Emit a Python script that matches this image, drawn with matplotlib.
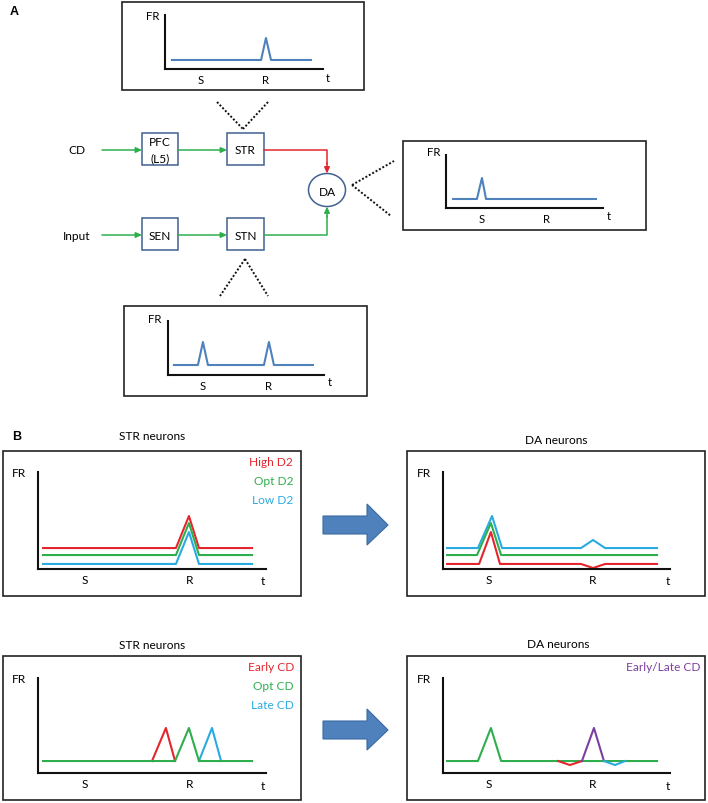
import matplotlib
matplotlib.use("Agg")
import matplotlib.pyplot as plt
from matplotlib.patches import Rectangle, Ellipse, Polygon

plt.rcParams['font.family'] = ['Lato', 'DejaVu Sans']

W, H = 708, 804

# ---------------- data (schematic firing-rate traces, % of mini-axis) ----------------
# Panel A
A_top_t = [4.4, 60.8, 63.9, 67.1, 92.4]
A_top_fr = [16.7, 16.7, 57.4, 16.7, 16.7]
A_top_ticks = [22.8, 63.9]

A_right_t = [4.5, 19.7, 22.9, 25.5, 95.5]
A_right_fr = [17.0, 17.0, 56.6, 17.0, 17.0]
A_right_ticks = [22.9, 64.3]

A_bot_t = [3.8, 19.2, 22.4, 25.6, 61.5, 64.7, 67.9, 92.9]
A_bot_fr = [18.5, 18.5, 61.1, 18.5, 18.5, 61.1, 18.5, 18.5]
A_bot_ticks = [22.4, 64.7]

tick_labels = ['S', 'R']

# Panel B, row 1: STR neurons (D2 levels)
B1_t = [2.2, 60.5, 66.2, 70.6, 93.9]
B1_high = [21.6, 21.6, 54.6, 21.6, 21.6]
B1_opt = [14.4, 14.4, 47.4, 14.4, 14.4]
B1_low = [5.2, 5.2, 38.1, 5.2, 5.2]
B1_ticks = [20.6, 66.7]
B1_labels = ['High D2', 'Opt D2', 'Low D2']

# Panel B, row 1: DA neurons
B2_low_t = [1.8, 15.4, 21.6, 26.0, 60.8, 66.1, 71.4, 94.3]
B2_low = [21.6, 21.6, 54.6, 21.6, 21.6, 29.9, 21.6, 21.6]
B2_opt_t = [1.8, 15.0, 21.1, 25.6, 94.3]
B2_opt = [14.4, 14.4, 47.4, 14.4, 14.4]
B2_high_t = [1.8, 15.9, 21.1, 25.1, 60.8, 66.1, 71.4, 94.3]
B2_high = [5.2, 5.2, 38.1, 5.2, 5.2, 1.0, 5.2, 5.2]
B2_ticks = [20.3, 66.1]

# Panel B, row 2: STR neurons (CD timing)
B3_early_t = [50.0, 56.1, 60.1]
B3_early = [12.6, 47.4, 12.6]
B3_opt_t = [2.2, 60.1, 66.2, 70.6, 93.9]
B3_opt = [12.6, 12.6, 47.4, 12.6, 12.6]
B3_late_t = [70.6, 76.3, 80.3]
B3_late = [12.6, 47.4, 12.6]
B3_ticks = [20.6, 66.7]
B3_labels = ['Early CD', 'Opt CD', 'Late CD']

# Panel B, row 2: DA neurons
B4_opt_t = [1.8, 15.4, 21.1, 25.6, 94.3]
B4_opt = [12.6, 12.6, 47.4, 12.6, 12.6]
B4_early_t = [50.7, 55.9, 61.2]
B4_early = [12.6, 8.4, 12.6]
B4_el_t = [61.2, 66.5, 70.9]
B4_el = [12.6, 47.4, 12.6]
B4_late_t = [70.9, 75.8, 80.2]
B4_late = [12.6, 8.4, 12.6]
B4_ticks = [20.3, 66.1]

# ---------------- styles ----------------
BLUE = '#4f81bd'
BOXBLUE = '#41618f'
RED = '#e3262d'
GREEN = '#2fae4e'
CYAN = '#29abe2'
PURPLE = '#7b3fa0'
FS = 8.6

fig = plt.figure(figsize=(W / 100, H / 100), dpi=100)
base = fig.add_axes([0, 0, 1, 1])
base.set_xlim(0, W)
base.set_ylim(H, 0)
base.axis('off')


def rect(x0, y0, x1, y1, ec='#222222', lw=1.2):
    base.add_patch(Rectangle((x0, y0), x1 - x0, y1 - y0, fill=False, ec=ec, lw=lw))


def mini(x0, x1, ytop, ybot, ticks, fr_xy, t_xy, fs=FS):
    ax = fig.add_axes([x0 / W, 1 - ybot / H, (x1 - x0) / W, (ybot - ytop) / H])
    ax.set_xlim(0, 100)
    ax.set_ylim(0, 100)
    ax.patch.set_alpha(0)
    for s in ['top', 'right']:
        ax.spines[s].set_visible(False)
    for s in ['left', 'bottom']:
        ax.spines[s].set_linewidth(1.5)
        ax.spines[s].set_color('#111111')
    ax.set_yticks([])
    ax.set_xticks(ticks)
    ax.set_xticklabels(tick_labels, fontsize=fs)
    ax.tick_params(axis='x', length=0, pad=3.5)
    base.text(*fr_xy, 'FR', fontsize=fs, ha='center', va='center')
    base.text(*t_xy, 't', fontsize=fs, ha='center', va='center')
    return ax


def dotted(p0, p1):
    base.plot([p0[0], p1[0]], [p0[1], p1[1]], color='#111111', lw=1.4,
              linestyle=(0, (1, 1)))


# ---------------- Panel A ----------------
base.text(10, 12, 'A', fontsize=9, fontweight='bold', family='Liberation Sans',
          ha='left', va='center')

rect(122, 3, 364, 91)
ax = mini(165, 323, 16, 70, A_top_ticks, (153, 16), (328, 78), fs=8.2)
ax.plot(A_top_t, A_top_fr, color=BLUE, lw=1.5, clip_on=False)

rect(403, 142, 646, 231)
ax = mini(446, 603, 156, 209, A_right_ticks, (434, 153), (609, 217), fs=8.2)
ax.plot(A_right_t, A_right_fr, color=BLUE, lw=1.5, clip_on=False)

rect(124, 307, 367, 397)
ax = mini(168, 324, 322, 376, A_bot_ticks, (155, 320), (330, 383), fs=8.2)
ax.plot(A_bot_t, A_bot_fr, color=BLUE, lw=1.5, clip_on=False)

dotted((217, 103), (243, 130))
dotted((268, 103), (243, 130))
dotted((352, 186), (394, 162))
dotted((352, 186), (391, 217))
dotted((245, 260), (220, 297))
dotted((245, 260), (268, 297))

# blocks
for (x0, y0, x1, y1) in [(142, 134, 178, 166), (227, 134, 264, 166),
                         (142, 219, 178, 251), (227, 219, 264, 251)]:
    rect(x0, y0, x1, y1, ec=BOXBLUE, lw=1.1)
base.add_patch(Ellipse((327, 191), 37, 33, fill=False, ec=BOXBLUE, lw=1.1))

base.text(160, 143, 'PFC', fontsize=FS, ha='center', va='center')
base.text(160, 159, '(L5)', fontsize=FS, ha='center', va='center')
base.text(245.5, 151, 'STR', fontsize=FS, ha='center', va='center')
base.text(160, 236, 'SEN', fontsize=FS, ha='center', va='center')
base.text(245.5, 236, 'STN', fontsize=FS, ha='center', va='center')
base.text(327, 192, 'DA', fontsize=FS, ha='center', va='center')
base.text(77, 151, 'CD', fontsize=FS, ha='center', va='center')
base.text(77, 236, 'Input', fontsize=FS, ha='center', va='center')


def arrow(p0, p1, color):
    base.annotate('', xy=p1, xytext=p0,
                  arrowprops=dict(arrowstyle='-|>,head_length=0.35,head_width=0.16',
                                  color=color, lw=1.1, shrinkA=0, shrinkB=0))


arrow((102, 151), (142, 151), GREEN)
arrow((178, 151), (227, 151), GREEN)
arrow((102, 236), (142, 236), GREEN)
arrow((178, 236), (227, 236), GREEN)
base.plot([264, 327, 327], [151, 151, 165], color=RED, lw=1.1)
arrow((327, 164), (327, 174.5), RED)
base.plot([264, 327, 327], [236, 236, 217], color=GREEN, lw=1.1)
arrow((327, 218), (327, 207.5), GREEN)

# ---------------- Panel B ----------------
base.text(12, 437, 'B', fontsize=9, fontweight='bold', family='Liberation Sans',
          ha='left', va='center')

# row 1 left
base.text(152, 437, 'STR neurons', fontsize=FS, ha='center', va='center')
rect(3, 452, 301, 597)
ax = mini(38, 266, 473, 570, B1_ticks, (19, 474), (263, 582))
ax.plot(B1_t, B1_high, color=RED, lw=1.5, clip_on=False)
ax.plot(B1_t, B1_opt, color=GREEN, lw=1.5, clip_on=False)
ax.plot(B1_t, B1_low, color=CYAN, lw=1.5, clip_on=False)
for lab, col, y in zip(B1_labels, [RED, GREEN, CYAN], [463, 482, 501]):
    base.text(293, y, lab, color=col, fontsize=FS, ha='right', va='center')

# row 1 right
base.text(556, 441, 'DA neurons', fontsize=FS, ha='center', va='center')
rect(407, 452, 705, 597)
ax = mini(443, 670, 473, 570, B2_ticks, (424, 474), (668, 582))
ax.plot(B2_low_t, B2_low, color=CYAN, lw=1.5, clip_on=False)
ax.plot(B2_opt_t, B2_opt, color=GREEN, lw=1.5, clip_on=False)
ax.plot(B2_high_t, B2_high, color=RED, lw=1.5, clip_on=False)

# row 2 left
base.text(152, 646, 'STR neurons', fontsize=FS, ha='center', va='center')
rect(3, 657, 301, 801)
ax = mini(38, 266, 679, 774, B3_ticks, (19, 680), (263, 787))
ax.plot(B3_early_t, B3_early, color=RED, lw=1.5, clip_on=False)
ax.plot(B3_late_t, B3_late, color=CYAN, lw=1.5, clip_on=False)
ax.plot(B3_opt_t, B3_opt, color=GREEN, lw=1.5, clip_on=False)
for lab, col, y in zip(B3_labels, [RED, GREEN, CYAN], [668, 687, 706]):
    base.text(294, y, lab, color=col, fontsize=FS, ha='right', va='center')

# row 2 right
base.text(558, 645, 'DA neurons', fontsize=FS, ha='center', va='center')
rect(407, 657, 705, 801)
ax = mini(443, 670, 679, 774, B4_ticks, (424, 680), (668, 787))
ax.plot(B4_opt_t, B4_opt, color=GREEN, lw=1.5, clip_on=False)
ax.plot(B4_early_t, B4_early, color=RED, lw=1.5, clip_on=False)
ax.plot(B4_el_t, B4_el, color=PURPLE, lw=1.5, clip_on=False)
ax.plot(B4_late_t, B4_late, color=CYAN, lw=1.5, clip_on=False)
base.text(700, 668, 'Early/Late CD', color=PURPLE, fontsize=FS, ha='right', va='center')

# big block arrows
for yc in [526, 731]:
    base.add_patch(Polygon([(323, yc - 9), (367, yc - 9), (367, yc - 21), (388, yc),
                            (367, yc + 20), (367, yc + 9), (323, yc + 9)],
                           closed=True, fc=BLUE, ec='#3c6aa5', lw=0.8))

fig.savefig('out.png', dpi=100)
